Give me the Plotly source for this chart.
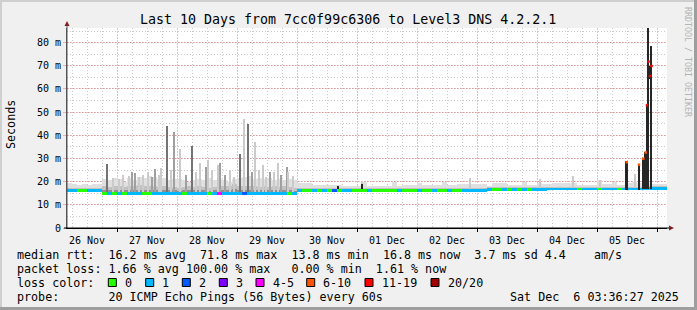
import pandas as pd
import plotly.graph_objects as go

# ---------------- data ----------------
START = "2025-11-26 04:00"
END = "2025-12-06 04:00"
BIN_HOURS = 2

# median rtt per 2-hour bin (ms)
median_ms = [
    16.1, 16.1, 16.1, 16.1, 16.1, 16.1, 16.1, 14.8, 14.8, 14.8, 14.8, 14.8,
    14.8, 14.8, 14.8, 14.8, 14.8, 14.8, 14.8, 14.8, 14.8, 14.8, 14.8, 14.8,
    14.8, 14.8, 14.8, 14.8, 14.8, 14.8, 14.8, 14.8, 14.8, 14.8, 14.8, 14.8,
    14.8, 14.8, 14.8, 14.8, 14.8, 14.8, 14.8, 14.8, 14.8, 14.8, 16.2, 16.2,
    16.2, 16.2, 16.2, 16.2, 16.2, 16.2, 16.2, 16.2, 16.2, 16.2, 16.2, 16.2,
    16.2, 16.2, 16.2, 16.2, 16.2, 16.2, 16.2, 16.2, 16.2, 16.2, 16.2, 16.2,
    16.2, 16.2, 16.2, 16.2, 16.2, 16.2, 16.2, 16.2, 16.2, 16.2, 16.2, 16.2,
    16.6, 16.6, 16.6, 16.6, 16.6, 16.6, 16.6, 16.6, 16.6, 16.6, 16.6, 16.6,
    16.7, 16.7, 16.7, 16.7, 16.7, 16.7, 16.7, 16.7, 16.7, 16.7, 16.7, 16.7,
    16.8, 16.8, 16.8, 16.8, 16.8, 16.8, 16.8, 16.8, 16.9, 17.0, 17.0, 17.0,
]

# loss class per bin (0:"0", 1:"1", 2:"2", 3:"3", 4:"4-5", 5:"6-10", 6:"11-19", 7:"20/20")
loss_code = [
    1, 1, 0, 0, 1, 1, 1, 0, 1, 0, 1, 0,
    1, 1, 1, 0, 0, 1, 1, 1, 1, 1, 1, 0,
    1, 1, 1, 1, 0, 1, 4, 1, 1, 1, 1, 2,
    1, 1, 1, 1, 1, 1, 1, 1, 0, 1, 1, 0,
    0, 1, 0, 1, 0, 2, 0, 1, 1, 0, 0, 0,
    1, 0, 0, 0, 0, 0, 1, 0, 0, 0, 1, 0,
    0, 1, 0, 0, 1, 0, 0, 1, 1, 1, 1, 1,
    1, 0, 0, 1, 0, 1, 0, 1, 0, 1, 1, 1,
    1, 1, 1, 1, 1, 1, 0, 1, 1, 1, 0, 1,
    1, 1, 0, 1, 1, 1, 1, 1, 1, 1, 1, 1,
]

# smoke envelope per bin (ms): outer (light), mid, core (dark)
smoke_outer_ms = [
    19.5, 18.8, 18.5, 19.0, 18.6, 19.0, 19.2, 21.0, 20.5, 21.5, 21.0, 20.0,
    21.5, 20.5, 22.0, 21.5, 22.5, 22.0, 21.0, 21.5, 20.5, 21.0, 21.0, 20.5,
    20.0, 20.5, 21.0, 20.5, 21.5, 20.5, 21.0, 20.5, 20.0, 21.0, 21.5, 22.0,
    22.5, 21.0, 21.5, 21.0, 21.5, 20.5, 21.0, 20.5, 21.0, 20.5, 19.6, 19.6,
    19.6, 18.7, 18.7, 18.7, 18.7, 18.7, 18.7, 18.2, 18.2, 18.2, 18.2, 19.7,
    18.3, 18.3, 18.3, 18.3, 18.3, 19.8, 18.3, 18.7, 18.7, 18.7, 19.4, 18.7,
    18.7, 18.7, 18.7, 19.7, 18.7, 18.7, 19.0, 19.0, 19.0, 19.0, 19.0, 19.0,
    18.2, 19.4, 19.6, 19.4, 18.5, 18.5, 18.5, 19.7, 18.7, 18.7, 19.3, 19.0,
    19.0, 19.6, 19.5, 19.5, 19.5, 19.4, 18.7, 18.7, 18.7, 18.7, 20.5, 18.9,
    18.9, 20.0, 18.7, 18.7, 19.5, 20.0, 19.5, 19.5, 19.5, 18.9, 18.9, 18.9,
]
smoke_mid_ms = [
    17.2, 17.2, 17.2, 17.2, 17.2, 17.2, 17.2, 18.0, 17.6, 18.3, 18.0, 17.6,
    18.3, 18.0, 18.6, 18.3, 18.3, 18.0, 17.6, 18.0, 17.6, 17.6, 17.3, 17.6,
    18.0, 17.6, 18.0, 17.6, 17.3, 17.6, 18.3, 18.0, 18.3, 18.8, 18.0, 18.3,
    18.0, 18.3, 17.6, 18.0, 17.6, 18.0, 17.6, 18.0, 17.6, 17.3, 17.3, 17.3,
    17.3, 17.3, 17.3, 17.3, 17.3, 17.3, 17.3, 17.3, 17.3, 17.3, 17.3, 17.3,
    17.3, 17.3, 17.3, 17.3, 17.3, 17.3, 17.3, 17.3, 17.3, 17.3, 17.3, 17.3,
    17.3, 17.3, 17.3, 17.3, 17.3, 17.3, 17.3, 17.3, 17.3, 17.3, 17.3, 17.3,
    17.7, 17.7, 17.7, 17.7, 17.7, 17.7, 17.7, 17.7, 17.7, 17.7, 17.7, 17.7,
    17.8, 17.8, 17.8, 17.8, 17.8, 17.8, 17.8, 17.8, 17.8, 17.8, 17.8, 17.8,
    17.9, 17.9, 17.9, 17.9, 17.9, 17.9, 17.9, 17.9, 18.0, 18.1, 18.1, 18.1,
]
smoke_core_ms = [
    16.1, 16.1, 16.1, 16.1, 16.1, 16.1, 16.1, 16.3, 16.2, 16.5, 16.3, 16.2,
    16.5, 16.3, 16.6, 16.4, 16.5, 16.3, 16.2, 16.4, 16.2, 16.2, 16.1, 16.2,
    16.3, 16.2, 16.3, 16.2, 16.1, 16.2, 16.5, 16.3, 16.5, 16.8, 16.3, 16.5,
    16.3, 16.5, 16.2, 16.3, 16.2, 16.3, 16.2, 16.3, 16.2, 16.1, 16.2, 16.2,
] + [16.2] * 36 + [16.6] * 12 + [16.7] * 12 + [16.8] * 12

# individual smoke spikes
spike_time = [
    "2025-11-26 20:07", "2025-11-26 22:24", "2025-11-27 02:24", "2025-11-27 07:12",
    "2025-11-27 10:24", "2025-11-27 15:12", "2025-11-27 17:36", "2025-11-27 19:53",
    "2025-11-27 23:00", "2025-11-28 01:12", "2025-11-28 05:53", "2025-11-28 09:12",
    "2025-11-28 11:29", "2025-11-28 12:31", "2025-11-28 16:31", "2025-11-28 17:12",
    "2025-11-29 01:12", "2025-11-29 02:55", "2025-11-29 04:31", "2025-11-29 07:12",
    "2025-11-29 10:24", "2025-11-29 13:12", "2025-11-29 16:31", "2025-11-29 19:53",
    "2025-11-29 22:17", "2025-11-30 16:24", "2025-12-01 01:53", "2025-12-01 02:00",
    "2025-12-02 21:12", "2025-12-04 01:12", "2025-12-04 14:31", "2025-12-05 01:12",
    "2025-12-05 15:12",
    "2025-11-27 00:48", "2025-11-27 04:48", "2025-11-27 06:00", "2025-11-27 08:48",
    "2025-11-27 12:24", "2025-11-27 14:00", "2025-11-27 16:48", "2025-11-27 21:36",
    "2025-11-28 03:36", "2025-11-28 07:48", "2025-11-28 14:12", "2025-11-28 19:24",
    "2025-11-28 21:24", "2025-11-28 23:00", "2025-11-29 06:12", "2025-11-29 08:48",
    "2025-11-29 11:36", "2025-11-29 14:48", "2025-11-29 17:48", "2025-11-29 20:36",
]
spike_top_ms = [
    27.5, 21.5, 23.0, 23.7, 23.0, 25.4, 26.0, 44.0,
    41.5, 34.0, 35.5, 28.0, 26.5, 29.5, 27.0, 28.0,
    31.8, 47.0, 45.0, 37.0, 27.0, 24.0, 28.0, 26.4,
    22.5, 18.2, 20.4, 19.0, 21.5, 21.2, 22.5, 20.8,
    23.3,
    21.0, 22.5, 24.0, 22.0, 24.0, 22.0, 23.0, 25.0,
    23.0, 24.0, 25.0, 23.0, 25.0, 22.0, 24.0, 25.0,
    22.0, 24.0, 23.0, 24.0,
]
spike_shade = [
    2, 0, 0, 1, 0, 1, 0, 2,
    1, 0, 2, 0, 1, 0, 0, 1,
    2, 0, 2, 0, 0, 1, 0, 1,
    0, 3, 0, 3, 0, 0, 0, 0,
    0,
    0, 0, 1, 0, 0, 1, 0, 0,
    1, 0, 0, 1, 0, 0, 1, 0,
    0, 0, 1, 0,
]

# heavy-loss events on 5 Dec: sparse-sample smoke bars
event_time = ["2025-12-05 11:53", "2025-12-05 16:48", "2025-12-05 18:31", "2025-12-05 19:29",
              "2025-12-05 20:00", "2025-12-05 20:36", "2025-12-05 21:12", "2025-12-05 21:48"]
event_low_ms = [16.5, 16.5, 17.0, 17.0, 17.0, 17.0, 64.5, 17.0]
event_high_ms = [28.7, 27.6, 30.2, 33.0, 53.0, 86.1, 70.0, 78.5]

# median points during those events
dot_time = ["2025-12-05 11:53", "2025-12-05 16:48", "2025-12-05 18:31", "2025-12-05 19:29",
            "2025-12-05 20:00", "2025-12-05 20:36", "2025-12-05 21:12", "2025-12-05 21:48"]
dot_ms = [28.4, 27.3, 29.9, 32.6, 53.0, 71.8, 65.6, 69.9]
dot_code = [5, 5, 5, 5, 6, 6, 6, 6]

loss_colors = ["#26ff00", "#00b8ff", "#0059ff", "#7e00ff", "#ff00ff", "#ff5500", "#ff0000", "#a10000"]
loss_labels = ["0", "1", "2", "3", "4-5", "6-10", "11-19", "20/20"]
y_tick_vals = [0, 10, 20, 30, 40, 50, 60, 70, 80]
y_tick_text = ["0", "10 m", "20 m", "30 m", "40 m", "50 m", "60 m", "70 m", "80 m"]

# ---------------- figure ----------------
W, H = 697, 310
L, R, T, B = 67, 30, 28, 82
PW, PH = W - L - R, H - T - B
MONO = "DejaVu Sans Mono"


def px(x):
    return (x - L) / PW


def py(y):
    return (H - B - y) / PH


start = pd.Timestamp(START)
bin_w = pd.Timedelta(hours=BIN_HOURS)
n = len(median_ms)
centers = [start + bin_w * i + bin_w / 2 for i in range(n)]
bw_ms = BIN_HOURS * 3600 * 1000
px_ms = 24 * 60 * 1000  # one pixel = 24 minutes

fig = go.Figure()


def smoke_layer(top, color):
    fig.add_trace(go.Bar(
        x=centers, base=median_ms, y=[max(t - m, 0) for t, m in zip(top, median_ms)],
        width=bw_ms, marker=dict(color=color, line=dict(width=0)),
        hoverinfo="skip", showlegend=False))


smoke_layer(smoke_outer_ms, "#e0e0e0")
smoke_layer(smoke_mid_ms, "#c2c2c2")
smoke_layer(smoke_core_ms, "#909090")

# spikes
shade_colors = ["#cbcbcb", "#a0a0a0", "#747474", "#222222"]
sp_t = [pd.Timestamp(t) for t in spike_time]
sp_base = [median_ms[min(int((t - start) / bin_w), n - 1)] for t in sp_t]
fig.add_trace(go.Bar(
    x=sp_t, base=sp_base, y=[tp - b for tp, b in zip(spike_top_ms, sp_base)],
    width=px_ms * 1.1, marker=dict(color=[shade_colors[s] for s in spike_shade], line=dict(width=0)),
    hoverinfo="skip", showlegend=False))

# median line coloured by loss
for code, col in enumerate(loss_colors):
    idx = [i for i in range(n) if loss_code[i] == code]
    if not idx:
        continue
    fig.add_trace(go.Bar(
        x=[centers[i] for i in idx], base=[median_ms[i] - 0.5 for i in idx],
        y=[1.1] * len(idx), width=bw_ms, marker=dict(color=col, line=dict(width=0)),
        hoverinfo="skip", showlegend=False))

# heavy-loss event bars
fig.add_trace(go.Bar(
    x=[pd.Timestamp(t) for t in event_time], base=event_low_ms,
    y=[h - l for h, l in zip(event_high_ms, event_low_ms)],
    width=px_ms * 1.8, marker=dict(color="#262626", line=dict(width=0)),
    hoverinfo="skip", showlegend=False))

fig.add_trace(go.Scatter(
    x=[pd.Timestamp(t) for t in dot_time], y=dot_ms, mode="markers",
    marker=dict(symbol="square", size=2.5, color=[loss_colors[c] for c in dot_code], line=dict(width=0)),
    hoverinfo="skip", showlegend=False))

MGRID = "rgba(222,80,80,0.38)"
GRID = "rgba(130,130,130,0.42)"

fig.update_layout(
    width=W, height=H, autosize=False,
    margin=dict(l=L, r=R, t=T, b=B, pad=0),
    paper_bgcolor="#f0f0f0", plot_bgcolor="#ffffff",
    barmode="overlay", bargap=0,
    font=dict(family=MONO, size=10, color="#000000"),
    xaxis=dict(
        type="date", range=[START, END], fixedrange=True,
        tick0="2025-11-26", dtick=86400000, ticklabelmode="period", tickformat="%d %b",
        ticks="outside", ticklen=3, tickcolor="#000000",
        showgrid=True, gridcolor=MGRID, griddash="2px,1px", gridwidth=1,
        minor=dict(dtick=6 * 3600000, showgrid=True, gridcolor=GRID, griddash="1px,2px", gridwidth=1),
        showline=True, linecolor="#000000", linewidth=1, zeroline=False,
        tickfont=dict(family=MONO, size=10, color="#000000"),
    ),
    yaxis=dict(
        range=[0, 86.3], fixedrange=True,
        tickmode="array", tickvals=y_tick_vals, ticktext=y_tick_text,
        ticks="outside", ticklen=3, tickcolor=MGRID,
        showgrid=True, gridcolor=MGRID, griddash="2px,1px", gridwidth=1,
        minor=dict(dtick=5, showgrid=True, gridcolor=GRID, griddash="1px,2px", gridwidth=1),
        showline=True, linecolor="#555555", linewidth=1, zeroline=False,
        tickfont=dict(family=MONO, size=10, color="#000000"),
    ),
)

ann = []


def text(x, y, s, size=11.7, anchor="left", color="#000000", angle=0):
    ann.append(dict(x=px(x), y=py(y), xref="paper", yref="paper", text=s, showarrow=False,
                    xanchor=anchor, yanchor="middle", textangle=angle,
                    font=dict(family=MONO, size=size, color=color)))


text(348, 19, "Last 10 Days from 7cc0f99c6306 to Level3 DNS 4.2.2.1", size=13.3, anchor="center")
text(11, 125, "Seconds", size=11.7, anchor="center", angle=-90)
text(688, 62, "RRDTOOL / TOBI OETIKER", size=8.3, anchor="center", color="#b4b4b4", angle=90)
text(15, 254.5, "median rtt:  16.2 ms avg  71.8 ms max  13.8 ms min  16.8 ms now  3.7 ms sd 4.4    am/s")
text(15, 268.5, "packet loss: 1.66 % avg 100.00 % max   0.00 % min  1.61 % now")
text(15, 282.5, "loss color:")
text(15, 296.5, "probe:       20 ICMP Echo Pings (56 Bytes) every 60s")
text(681, 296.5, "Sat Dec  6 03:36:27 2025", anchor="right")

box_left = [108.3, 145.7, 182.3, 219.3, 256.0, 306.7, 365.0, 431.0]
shapes = []
for bx, col, lab in zip(box_left, loss_colors, loss_labels):
    shapes.append(dict(type="rect", xref="paper", yref="paper",
                       x0=px(bx), x1=px(bx + 8), y0=py(286.5), y1=py(278.5),
                       fillcolor=col, line=dict(color="#000000", width=1)))
    text(bx + 14.5, 282.5, lab)

# arrows and axis extensions
shapes.append(dict(type="line", xref="paper", yref="paper", x0=px(67), x1=px(67), y0=py(228), y1=py(23),
                   line=dict(color="#555555", width=1)))
shapes.append(dict(type="line", xref="paper", yref="paper", x0=px(64), x1=px(671), y0=py(228), y1=py(228),
                   line=dict(color="#000000", width=1)))
shapes.append(dict(type="path", xref="paper", yref="paper",
                   path=f"M {px(64.5)} {py(26)} L {px(69.5)} {py(26)} L {px(67)} {py(21)} Z",
                   fillcolor="#7f1f1f", line=dict(width=0)))
shapes.append(dict(type="path", xref="paper", yref="paper",
                   path=f"M {px(669)} {py(225.5)} L {px(669)} {py(230.5)} L {px(674)} {py(228)} Z",
                   fillcolor="#7f1f1f", line=dict(width=0)))
# frame shading
shapes.append(dict(type="rect", xref="paper", yref="paper", x0=px(0), x1=px(697), y0=py(0), y1=py(2),
                   fillcolor="#cfcfcf", line=dict(width=0)))
shapes.append(dict(type="rect", xref="paper", yref="paper", x0=px(0), x1=px(2), y0=py(0), y1=py(310),
                   fillcolor="#cfcfcf", line=dict(width=0)))
shapes.append(dict(type="rect", xref="paper", yref="paper", x0=px(694), x1=px(697), y0=py(0), y1=py(310),
                   fillcolor="#9e9e9e", line=dict(width=0)))
shapes.append(dict(type="rect", xref="paper", yref="paper", x0=px(0), x1=px(697), y0=py(307), y1=py(310),
                   fillcolor="#9e9e9e", line=dict(width=0)))

fig.update_layout(annotations=ann, shapes=shapes)
fig.write_html("out.html")
